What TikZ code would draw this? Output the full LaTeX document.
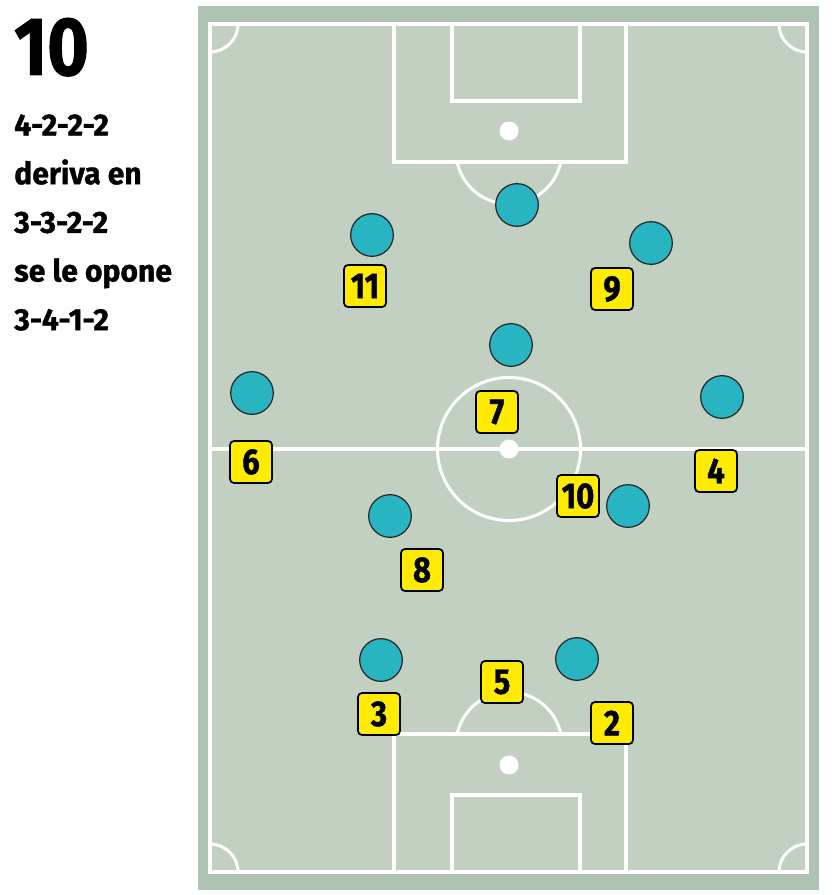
\documentclass[tikz,border=0pt]{standalone}
\usepackage{fontspec}
\setmainfont{Fira Sans}[FakeStretch=0.86]
\newfontfamily\heavynum{Fira Sans}[UprightFont={* Bold}, FakeStretch=0.86, FakeBold=1.2]
\newfontfamily\heavytext{Fira Sans}[UprightFont={* Bold}, FakeStretch=0.98, FakeBold=1.2]
\usepackage{tikz}

\definecolor{pitchgreen}{RGB}{193,208,193}
\definecolor{pitchedge}{RGB}{176,194,178}
\definecolor{playerteal}{RGB}{41,180,194}
\definecolor{numyellow}{RGB}{255,235,0}

\tikzset{
 pitchline/.style={white, line width=2.3pt},
 player/.style={circle, fill=playerteal, draw=black!85, line width=0.9pt,
   minimum size=32pt, inner sep=0pt},
 numbox/.style={fill=numyellow, draw=black, line width=1.3pt, rounded corners=3pt,
   minimum size=31.5pt, inner sep=0pt,
   font=\heavynum\fontsize{27}{27}\selectfont},
}

\begin{document}
\begin{tikzpicture}[x=0.75pt,y=-0.75pt]
 \useasboundingbox (0,0) rectangle (833,895);
 \fill[white] (0,0) rectangle (833,895);

 % pitch
 \fill[pitchedge] (198,6) rectangle (819,890);
 \fill[pitchgreen] (210,24) rectangle (807,872);
 \draw[pitchline] (210,24) rectangle (807,872);
 \draw[pitchline] (210,449) -- (807,449);
 \draw[pitchline] (509,449) circle[radius=71.5];
 \draw[pitchline] (394,24) rectangle (626,162);
 \draw[pitchline] (452,24) rectangle (580,101);
 \draw[pitchline] (394,734) rectangle (626,872);
 \draw[pitchline] (452,795) rectangle (580,872);
 \draw[pitchline] (509,151) ++(12:53) arc[start angle=12,end angle=168,radius=53];
 \draw[pitchline] (509,745) ++(192:53) arc[start angle=192,end angle=348,radius=53];
 \foreach \y in {131,449,765}
  \fill[white] (509,\y) circle[radius=9.5];
 % corners
 \draw[pitchline] (210,24) ++(0:28) arc[start angle=0,end angle=90,radius=28];
 \draw[pitchline] (807,24) ++(90:28) arc[start angle=90,end angle=180,radius=28];
 \draw[pitchline] (210,872) ++(270:28) arc[start angle=270,end angle=360,radius=28];
 \draw[pitchline] (807,872) ++(180:28) arc[start angle=180,end angle=270,radius=28];

 % players
 \foreach \x/\y [count=\i] in {517/205, 372/235, 651/243, 511/345, 252/393,
   722/397, 390/516, 628/506, 381/660, 577/659}
  \node[player] (p\i) at (\x,\y) {};

 % numbers
 \foreach \n/\x/\y in {11/365/286, 9/612/289, 7/497/412, 6/251/462, 4/716/471,
   10/578/496, 8/422/570, 5/502/682, 3/379/714, 2/612/723}
  \node[numbox] (n\n) at (\x,\y) {\n};

 % caption
 \node[anchor=base west, inner sep=0pt, font=\heavynum\fontsize{62}{62}\selectfont]
  (title) at (14,75) {10};
 \node[anchor=north west, inner sep=0pt, align=left,
  font=\heavytext\fontsize{23}{36.5}\selectfont]
  (scheme) at (14,114) {4-2-2-2\\deriva en\\3-3-2-2\\se le opone\\3-4-1-2};
\end{tikzpicture}
\end{document}
